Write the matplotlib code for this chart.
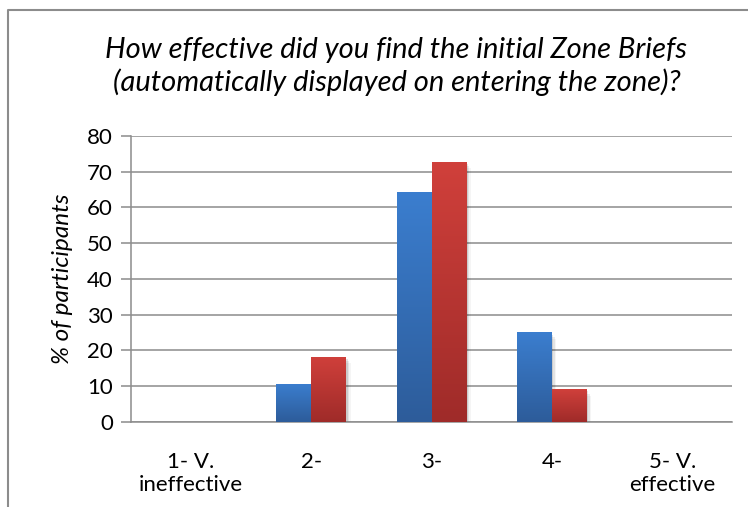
import numpy as np
import matplotlib.pyplot as plt
from matplotlib.colors import LinearSegmentedColormap
from matplotlib.lines import Line2D

# Survey responses (% of participants per rating)
categories = ["1- V.\nineffective", "2-", "3-", "4-", "5- V.\neffective"]
group_a = [0, 10.7, 64.3, 25.0, 0]
group_b = [0, 18.2, 72.7, 9.1, 0]
yticks = [0, 10, 20, 30, 40, 50, 60, 70, 80]

title = ("How effective did you find the initial Zone Briefs\n"
         "(automatically displayed on entering the zone)?")

BLUE = ("#3b7ecf", "#2d5c9a")
RED = ("#d0403b", "#9f2b29")


def gradient_bars(ax, bars, colors):
    cmap = LinearSegmentedColormap.from_list("g", [colors[1], colors[0]])
    grad = np.linspace(0, 1, 256).reshape(-1, 1)
    for b in bars:
        x, y = b.get_x(), b.get_y()
        w, h = b.get_width(), b.get_height()
        if h <= 0:
            continue
        # soft drop shadow under each bar
        for i, a in enumerate([0.10, 0.07, 0.04]):
            d = 0.012 * (i + 1)
            ax.add_patch(plt.Rectangle((x + d, y - 0.6 * (i + 1)), w, h,
                                       color="black", alpha=a, lw=0, zorder=2))
        im = ax.imshow(grad, cmap=cmap, aspect="auto", origin="lower",
                       extent=(x, x + w, y, y + h), zorder=3)
        im.set_clip_path(b)
        b.set_facecolor("none")


fig = plt.figure(figsize=(7.48, 5.07), dpi=100)
ax = fig.add_axes([0.175, 0.168, 0.804, 0.564])

x = np.arange(len(categories))
w = 0.29
bars_a = ax.bar(x - w / 2, group_a, w, color=BLUE[0], lw=0, zorder=3)
bars_b = ax.bar(x + w / 2, group_b, w, color=RED[0], lw=0, zorder=3)
gradient_bars(ax, bars_a, BLUE)
gradient_bars(ax, bars_b, RED)

ax.set_xlim(-0.5, len(categories) - 0.5)
ax.set_ylim(0, 80)
ax.set_yticks(yticks)
ax.yaxis.grid(True, color="#8c8c8c", lw=1.1, zorder=0)
ax.set_axisbelow(True)

for s in ["top", "right"]:
    ax.spines[s].set_visible(False)
ax.spines["left"].set_color("#8c8c8c")
ax.spines["bottom"].set_color("#8c8c8c")
ax.spines["left"].set_linewidth(1.1)
ax.spines["bottom"].set_linewidth(1.1)

ax.set_xticks(x)
ax.set_xticklabels(categories, fontsize=16, family="Lato", linespacing=1.15)
ax.tick_params(axis="x", length=0, pad=22)
ax.tick_params(axis="y", length=7, color="#8c8c8c", width=1.1,
               labelsize=16, pad=6)
for lbl in ax.get_yticklabels():
    lbl.set_family("Lato")

ax.set_ylabel("% of participants", fontsize=17.5, family="Lato",
              style="italic", labelpad=10)

fig.text(0.53, 0.927, title, ha="center", va="top", fontsize=21,
         family="Lato", style="italic", linespacing=1.25)

# chart frame (top and left edges)
fig.add_artist(Line2D([0.011, 0.011, 1.0], [0.0, 0.980, 0.980],
                      transform=fig.transFigure, color="#8c8c8c", lw=1.5))

fig.savefig("out.png", dpi=100)
